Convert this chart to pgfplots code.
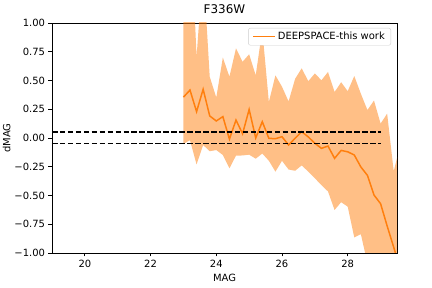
\documentclass[border=0pt]{standalone}
\usepackage{fontspec}
\setmainfont{DejaVu Sans}
\usepackage{pgfplots}
\usepackage{pgfplotstable}
\pgfplotsset{compat=1.18}
\definecolor{mplorange}{HTML}{FF7F0E}
\definecolor{legframe}{HTML}{CCCCCC}
\pgfplotstableread{
m     c
23.0  0.355
23.2  0.417
23.4  0.229
23.6  0.424
23.8  0.192
24.0  0.148
24.2  0.186
24.4  -0.01
24.6  0.156
24.8  0.037
25.0  0.248
25.2  0.0
25.4  0.142
25.6  -0.003
25.8  -0.006
26.0  0.011
26.2  -0.061
26.4  -0.002
26.6  0.055
26.8  0.009
27.0  -0.046
27.2  -0.09
27.4  -0.07
27.6  -0.177
27.8  -0.108
28.0  -0.12
28.2  -0.148
28.4  -0.252
28.6  -0.325
28.8  -0.496
29.0  -0.571
29.2  -0.765
29.4  -0.95
29.6  -1.14
}\dataLine
% band polygon: upper edge left->right, then lower edge right->left
\pgfplotstableread{
m     b
23.0  1.8
23.2  2.0
23.4  0.707
23.6  1.5
23.8  0.533
24.0  0.352
24.2  0.70
24.4  0.533
24.6  0.78
24.8  0.663
25.0  0.728
25.2  0.545
25.4  0.939
25.6  0.313
25.8  0.544
26.0  0.446
26.2  0.318
26.4  0.515
26.6  0.606
26.8  0.494
27.0  0.561
27.2  0.502
27.4  0.574
27.6  0.40
27.8  0.485
28.0  0.407
28.2  0.539
28.4  0.385
28.6  0.243
28.8  0.326
29.0  0.125
29.2  0.212
29.4  -0.29
29.6  -0.06
29.6  -1.9
29.4  -1.7
29.2  -1.5
29.0  -1.4
28.8  -1.3
28.6  -1.09
28.4  -0.836
28.2  -0.865
28.0  -0.597
27.8  -0.558
27.6  -0.626
27.4  -0.465
27.2  -0.41
27.0  -0.35
26.8  -0.293
26.6  -0.238
26.4  -0.285
26.2  -0.274
26.0  -0.198
25.8  -0.293
25.6  -0.198
25.4  -0.135
25.2  -0.18
25.0  -0.145
24.8  -0.152
24.6  -0.153
24.4  -0.264
24.2  -0.148
24.0  -0.105
23.8  -0.115
23.6  -0.061
23.4  -0.23
23.2  -0.02
23.0  -0.05
}\dataBand
\begin{document}
\begin{tikzpicture}
\path[use as bounding box] (-52bp,-35bp) rectangle (380bp,253bp);
\begin{axis}[
  at={(0,0)}, anchor=south west,
  scale only axis, width=345bp, height=230bp,
  xmin=19, xmax=29.5, ymin=-1, ymax=1,
  xtick={20,22,24,26,28},
  ytick={-1,-0.75,-0.5,-0.25,0,0.25,0.5,0.75,1},
  yticklabels={−1.00,−0.75,−0.50,−0.25,0.00,0.25,0.50,0.75,1.00},
  tick label style={font=\fontsize{10}{12}\selectfont},
  label style={font=\fontsize{10}{12}\selectfont},
  ylabel style={yshift=-3bp},
  title style={font=\fontsize{12}{14}\selectfont},
  /pgf/number format/assume math mode=true,
  xlabel={MAG}, ylabel={dMAG}, title={F336W},
  tick align=outside, xtick pos=bottom, ytick pos=left,
  major tick length=3.5bp,
  every tick/.style={black, line width=0.8bp},
  axis line style={line width=0.8bp},
  legend style={at={(1,1)}, xshift=-6bp, yshift=-5bp, anchor=north east,
    draw=legframe, rounded corners=2bp, fill=white,
    font=\fontsize{10}{12}\selectfont, inner xsep=4bp, inner ysep=2bp,
    cells={anchor=west}},
  legend image code/.code={\draw[#1, line width=1.5bp] (0bp,0bp) -- (22bp,0bp);},
]
\addplot[fill=mplorange, fill opacity=0.5, draw=none, forget plot] table[x=m,y=b] {\dataBand};
\addplot[mplorange, line width=1.5bp, mark=none] table[x=m,y=c] {\dataLine};
\addlegendentry{DEEPSPACE-this work}
\addplot[black, line width=1.5bp, dash pattern=on 5.55bp off 2.4bp, forget plot] coordinates {(19,0.05) (29,0.05)};
\addplot[black, line width=1.5bp, dash pattern=on 5.55bp off 2.4bp, forget plot] coordinates {(19,-0.05) (29,-0.05)};
\end{axis}
\end{tikzpicture}
\end{document}
